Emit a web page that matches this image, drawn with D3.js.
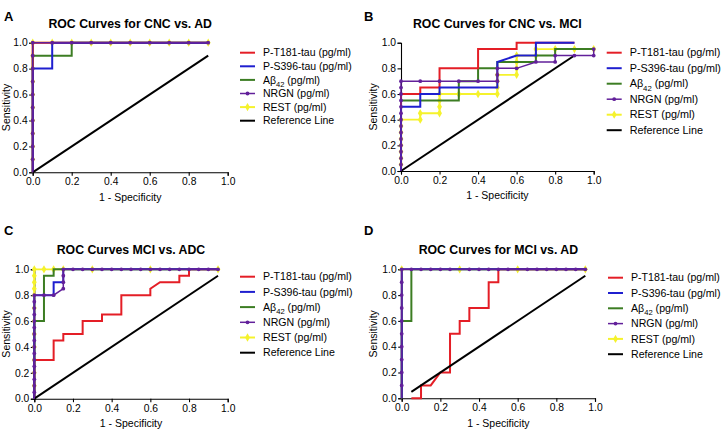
<!DOCTYPE html>
<html>
<head>
<meta charset="utf-8">
<script src="https://cdn.jsdelivr.net/npm/d3@7"></script>
<style>
  body { margin: 0; background: #fff; }
  svg { display: block; font-family: Arial, "Liberation Sans", sans-serif; }
</style>
</head>
<body>
<div id="chart"></div>
<script>
// series names, in legend order
var seriesNames = ["P-T181-tau (pg/ml)", "P-S396-tau (pg/ml)", "Aβ42 (pg/ml)", "NRGN (pg/ml)", "REST (pg/ml)", "Reference Line"];
var tickValues = [0, 0.2, 0.4, 0.6, 0.8, 1.0];

// panel A: CNC vs AD  ([1 - specificity, sensitivity])
var aT181 = [[0,0],[0,1],[0.9,1]];
var aS396 = [[0,0],[0,0.8],[0.1,0.8],[0.1,1],[0.9,1]];
var aAB42 = [[0,0],[0,0.9],[0.2,0.9],[0.2,1],[0.9,1]];
var aNRGN = [[0,0],[0,0.1],[0,0.2],[0,0.3],[0,0.4],[0,0.5],[0,0.6],[0,0.7],[0,0.8],[0,0.9],[0,1],
             [0.1,1],[0.2,1],[0.3,1],[0.4,1],[0.5,1],[0.6,1],[0.7,1],[0.8,1],[0.9,1]];
var aREST = [[0,0],[0,0.1],[0,0.2],[0,0.3],[0,0.4],[0,0.5],[0,0.6],[0,0.7],[0,0.8],[0,0.9],[0,1],
             [0.1,1],[0.2,1],[0.3,1],[0.4,1],[0.5,1],[0.6,1],[0.7,1],[0.8,1],[0.9,1]];
var aRef = [[0,0],[0.9,0.9]];

// panel B: CNC vs MCI
var bT181 = [[0,0],[0,0.6],[0.1,0.6],[0.1,0.65],[0.2,0.65],[0.2,0.8],[0.4,0.8],[0.4,0.95],[0.6,0.95],[0.6,1],[0.9,1]];
var bS396 = [[0,0],[0,0.5],[0.1,0.5],[0.1,0.6],[0.2,0.6],[0.2,0.65],[0.5,0.65],[0.5,0.85],[0.6,0.9],[0.7,0.9],[0.7,1],[0.9,1]];
var bAB42 = [[0,0],[0,0.55],[0.3,0.55],[0.3,0.7],[0.4,0.7],[0.4,0.8],[0.5,0.8],[0.5,0.85],[0.7,0.85],[0.7,0.9],[0.8,0.9],[0.8,0.95],[1,0.95]];
var bNRGN = [[0,0],[0,0.05],[0,0.1],[0,0.15],[0,0.2],[0,0.25],[0,0.3],[0,0.35],[0,0.4],[0,0.45],[0,0.5],[0,0.55],[0,0.6],[0,0.65],[0,0.7],
             [0.1,0.7],[0.2,0.7],[0.3,0.7],[0.4,0.7],[0.5,0.7],[0.5,0.75],[0.5,0.8],[0.6,0.8],[0.7,0.85],[0.8,0.85],[0.8,0.9],[0.9,0.9],[1,0.9],[1,0.95]];
var bREST = [[0,0],[0,0.05],[0,0.1],[0,0.15],[0,0.2],[0,0.25],[0,0.3],[0,0.35],[0,0.4],[0.1,0.4],[0.1,0.45],[0.2,0.45],[0.2,0.5],[0.2,0.55],[0.2,0.6],
             [0.3,0.6],[0.4,0.6],[0.5,0.6],[0.5,0.65],[0.5,0.7],[0.5,0.75],[0.6,0.75],[0.6,0.8],[0.6,0.85],[0.6,0.9],[0.7,0.9],[0.7,0.95],[0.8,0.95],[0.9,0.95],[1,0.95]];
var bRef = [[0,0],[0.9,0.9]];

// panel C: MCI vs ADC
var cT181 = [[0,0],[0,0.3],[0.1,0.3],[0.1,0.45],[0.15,0.45],[0.15,0.5],[0.25,0.5],[0.25,0.6],[0.35,0.6],[0.35,0.65],[0.45,0.65],[0.45,0.8],
             [0.6,0.8],[0.6,0.85],[0.65,0.9],[0.75,0.9],[0.75,0.95],[0.8,0.95],[0.8,1],[0.95,1]];
var cS396 = [[0,0],[0,0.8],[0.1,0.8],[0.1,0.9],[0.15,0.9],[0.15,1],[0.95,1]];
var cAB42 = [[0,0],[0,0.6],[0.05,0.6],[0.05,0.95],[0.1,0.95],[0.1,1],[0.95,1]];
var cNRGN = [[0,0],[0,0.05],[0,0.1],[0,0.15],[0,0.2],[0,0.25],[0,0.3],[0,0.35],[0,0.4],[0,0.45],[0,0.5],[0,0.55],[0,0.6],[0,0.65],[0,0.7],[0,0.75],[0,0.8],
             [0.05,0.8],[0.1,0.8],[0.15,0.85],[0.15,0.9],[0.15,0.95],[0.15,1],[0.2,1],[0.25,1],[0.3,1],[0.35,1],[0.4,1],[0.45,1],[0.5,1],[0.55,1],
             [0.6,1],[0.65,1],[0.7,1],[0.75,1],[0.8,1],[0.85,1],[0.9,1],[0.95,1]];
var cREST = [[0,0],[0,0.1],[0,0.2],[0,0.3],[0,0.4],[0,0.5],[0,0.6],[0,0.7],[0,0.8],[0,0.85],[0,0.9],[0,0.95],[0,1],
             [0.05,1],[0.1,1],[0.15,1],[0.3,1],[0.6,1],[0.95,1]];
var cRef = [[0,0],[0.95,0.95]];

// panel D: MCI vs AD
var dT181 = [[0.05,0],[0.1,0],[0.1,0.1],[0.15,0.1],[0.2,0.2],[0.25,0.2],[0.25,0.5],[0.3,0.5],[0.3,0.6],[0.35,0.6],[0.35,0.7],[0.45,0.7],
             [0.45,0.9],[0.5,0.9],[0.5,1],[0.95,1]];
var dS396 = [[0,0],[0,1],[0.95,1]];
var dAB42 = [[0,0],[0,0.6],[0.05,0.6],[0.05,1],[0.95,1]];
var dNRGN = [[0,0],[0,0.1],[0,0.2],[0,0.3],[0,0.4],[0,0.5],[0,0.6],[0,0.7],[0,0.8],[0,0.9],[0,1],
             [0.05,1],[0.1,1],[0.15,1],[0.2,1],[0.25,1],[0.35,1],[0.4,1],[0.45,1],[0.5,1],[0.55,1],
             [0.65,1],[0.7,1],[0.75,1],[0.8,1],[0.85,1],[0.9,1],[0.95,1]];
var dREST = [[0,0],[0,1],[0.3,1],[0.6,1],[0.95,1]];
var dRef = [[0.05,0.05],[0.95,0.95]];

var colors = ["#e41e26", "#1f1fcf", "#3c7d23", "#62209a", "#f5f22c", "#000000"];
var widths = [2, 2, 2, 1.5, 1.8, 2];

var panels = [
  {letter: "A", title: "ROC Curves for CNC vs. AD", data: [aT181, aS396, aAB42, aNRGN, aREST, aRef],
   x0: 32.7, x1: 227.7, y0: 172.3, y1: 42.7, lx: 240, ly: 52.7, ldy: 13.6, lfs: 10.5, yl: 6.7, lettery: 20.7, titley: 28.3, xly: 200.5},
  {letter: "B", title: "ROC Curves for CNC vs. MCI", data: [bT181, bS396, bAB42, bNRGN, bREST, bRef],
   x0: 401, x1: 593.7, y0: 171, y1: 42.7, lx: 606.7, ly: 52.7, ldy: 15.5, lfs: 10.8, yl: 373.3, lettery: 20.7, titley: 28.3, xly: 199},
  {letter: "C", title: "ROC Curves MCI vs. ADC", data: [cT181, cS396, cAB42, cNRGN, cREST, cRef],
   x0: 34.3, x1: 227.7, y0: 398.7, y1: 269.3, lx: 240, ly: 276.7, ldy: 15.2, lfs: 10.6, yl: 6.7, lettery: 235, titley: 254.3, xly: 427},
  {letter: "D", title: "ROC Curves for MCI vs. AD", data: [dT181, dS396, dAB42, dNRGN, dREST, dRef],
   x0: 401.7, x1: 595, y0: 398.3, y1: 269.3, lx: 608, ly: 277.7, ldy: 15.3, lfs: 10.6, yl: 373.3, lettery: 235, titley: 254.3, xly: 427}
];

// drawing order: REST at the bottom, NRGN on top
var drawOrder = [4, 2, 0, 1, 5, 3];

var svg = d3.select("#chart").append("svg")
  .attr("width", 721)
  .attr("height", 431);

var diamond = d3.symbol().type(d3.symbolDiamond).size(20);

panels.forEach(function(p) {
  var x = d3.scaleLinear().domain([0, 1]).range([p.x0, p.x1]);
  var y = d3.scaleLinear().domain([0, 1]).range([p.y0, p.y1]);
  var g = svg.append("g");

  // panel letter and title
  var left = p.letter == "A" || p.letter == "C" ? 4 : 364;
  g.append("text").attr("x", left).attr("y", p.lettery)
    .style("font-size", "13px").style("font-weight", "bold").text(p.letter);
  g.append("text").attr("x", (p.x0 + p.x1) / 2).attr("y", p.titley)
    .attr("text-anchor", "middle")
    .style("font-size", "12.3px").style("font-weight", "bold").text(p.title);

  // axes
  var xAxis = g.append("g").attr("transform", "translate(0," + p.y0 + ")")
    .call(d3.axisBottom(x).tickValues(tickValues).tickFormat(d3.format(".1f")).tickSize(3.5).tickPadding(2));
  var yAxis = g.append("g").attr("transform", "translate(" + p.x0 + ",0)")
    .call(d3.axisLeft(y).tickValues(tickValues).tickFormat(d3.format(".1f")).tickSize(3.5).tickPadding(1.5));
  [xAxis, yAxis].forEach(function(a) {
    a.selectAll("path, line").attr("stroke", "#000").attr("stroke-width", 1.1);
    a.selectAll("text").attr("fill", "#000").style("font-size", "10.3px")
      .style("font-family", "Arial, 'Liberation Sans', sans-serif");
  });
  g.append("text").attr("x", (p.x0 + p.x1) / 2).attr("y", p.xly)
    .attr("text-anchor", "middle").style("font-size", "10.5px").text("1 - Specificity");
  g.append("text")
    .attr("transform", "translate(" + p.yl + "," + (p.y0 + p.y1) / 2 + ") rotate(-90)")
    .attr("text-anchor", "middle").attr("dy", "0.35em")
    .style("font-size", "10.5px").text("Sensitivity");

  // curves
  var line = d3.line().x(function(d) { return x(d[0]); }).y(function(d) { return y(d[1]); });
  drawOrder.forEach(function(i) {
    var pts = p.data[i];
    if (i == 4) {
      g.selectAll(null).data(pts.slice(1)).enter().append("path")
        .attr("d", diamond)
        .attr("transform", function(d) { return "translate(" + x(d[0]) + "," + y(d[1]) + ")"; })
        .attr("fill", colors[i]);
    }
    g.append("path").datum(pts)
      .attr("d", line)
      .attr("fill", "none")
      .attr("stroke", colors[i])
      .attr("stroke-width", widths[i])
      .attr("stroke-linejoin", "miter");
    if (i == 3) {
      g.selectAll(null).data(pts.slice(1)).enter().append("circle")
        .attr("cx", function(d) { return x(d[0]); })
        .attr("cy", function(d) { return y(d[1]); })
        .attr("r", 1.9)
        .attr("fill", colors[i]);
    }
  });

  // legend
  seriesNames.forEach(function(name, i) {
    var ry = p.ly + i * p.ldy;
    g.append("line").attr("x1", p.lx).attr("x2", p.lx + 15).attr("y1", ry).attr("y2", ry)
      .attr("stroke", colors[i]).attr("stroke-width", i == 3 ? 1.5 : 2);
    if (i == 3) {
      g.append("circle").attr("cx", p.lx + 7.5).attr("cy", ry).attr("r", 1.9).attr("fill", colors[i]);
    }
    if (i == 4) {
      g.append("path").attr("d", diamond).attr("transform", "translate(" + (p.lx + 7.5) + "," + ry + ")")
        .attr("fill", colors[i]);
    }
    var t = g.append("text").attr("x", p.lx + 23).attr("y", ry + p.lfs * 0.35)
      .style("font-size", p.lfs + "px");
    if (i == 2) {
      t.append("tspan").text("Aβ");
      t.append("tspan").attr("dy", p.lfs * 0.3).style("font-size", (p.lfs * 0.72) + "px").text("42");
      t.append("tspan").attr("dy", -p.lfs * 0.3).text(" (pg/ml)");
    } else {
      t.text(name);
    }
  });
});
</script>
</body>
</html>
